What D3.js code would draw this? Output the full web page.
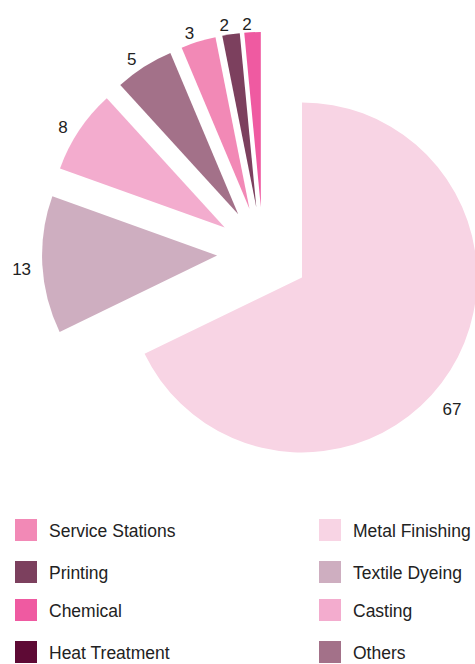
<!DOCTYPE html>
<html><head><meta charset="utf-8">
<script src="https://cdn.jsdelivr.net/npm/d3@7/dist/d3.min.js"></script>
<style>html,body{margin:0;padding:0;background:#fff;}svg{display:block;}</style>
</head><body><svg id="c" width="475" height="664"></svg>
<script>
const categories = ["Metal Finishing","Textile Dyeing","Casting","Others","Service Stations","Printing","Chemical","Heat Treatment"];
const values = [67.4,12.6,7.7,5.4,3.2,1.6,1.5,0];
const colors = ["#f8d4e4","#ceaec0","#f3acce","#a37189","#f289b6","#7c405e","#ef5aa1","#5e0a35"];
const legendLeft = ["Service Stations","Printing","Chemical","Heat Treatment"];
const legendRight = ["Metal Finishing","Textile Dyeing","Casting","Others"];

const W = 475, H = 664;
const cx = 263, cy = 253, R = 175, pull = 46;
const labelShift = [-5, 4];
const svg = d3.select("#c");
const font = "'Liberation Sans', Arial, Helvetica, sans-serif";

const data = categories.map((c,i)=>({name:c, value:values[i], color:colors[i]}));
const pie = d3.pie().sort(null).value(d=>d.value).startAngle(0).endAngle(2*Math.PI);
const arc = d3.arc().innerRadius(0).outerRadius(R);
const arcs = pie(data).filter(a=>a.data.value>0);

const g = svg.append("g").attr("transform",`translate(${cx},${cy})`);
g.selectAll("path").data(arcs).join("path")
  .attr("d",arc)
  .attr("fill",d=>d.data.color)
  .attr("transform",d=>{
    const m=(d.startAngle+d.endAngle)/2;
    return `translate(${pull*Math.sin(m)},${-pull*Math.cos(m)})`;
  });

// labels
arcs.forEach(d=>{
  const m=(d.startAngle+d.endAngle)/2;
  const s=Math.sin(m), c=-Math.cos(m);
  const txt=String(Math.round(d.data.value));
  const t=g.append("text").text(txt)
    .attr("font-family",font).attr("font-size",17).attr("fill","#222")
    .attr("text-anchor","middle").attr("dominant-baseline","central");
  const w=t.node().getComputedTextLength(), h=12;
  let r=R+pull+6+w/2*Math.abs(s)+h/2*Math.abs(c);
  let x=r*s, y=r*c;
  const maxX = W-23-cx;
  if(x>maxX){ x=maxX; y=Math.sqrt(Math.max(0,(r+7)*(r+7)-x*x)); }
  else { x+=labelShift[0]; y+=labelShift[1]; }
  t.attr("x",x).attr("y",y);
});

// legend
const rows=[519,561,599,641];
function legendCol(items,x0){
  items.forEach((name,i)=>{
    const idx=categories.indexOf(name);
    svg.append("rect").attr("x",x0).attr("y",rows[i]).attr("width",22).attr("height",22).attr("fill",colors[idx]);
    svg.append("text").attr("x",x0+34).attr("y",rows[i]+12).text(name)
      .attr("font-family",font).attr("font-size",17.5).attr("fill","#222").attr("dominant-baseline","central");
  });
}
legendCol(legendLeft,15);
legendCol(legendRight,319);
</script></body></html>
